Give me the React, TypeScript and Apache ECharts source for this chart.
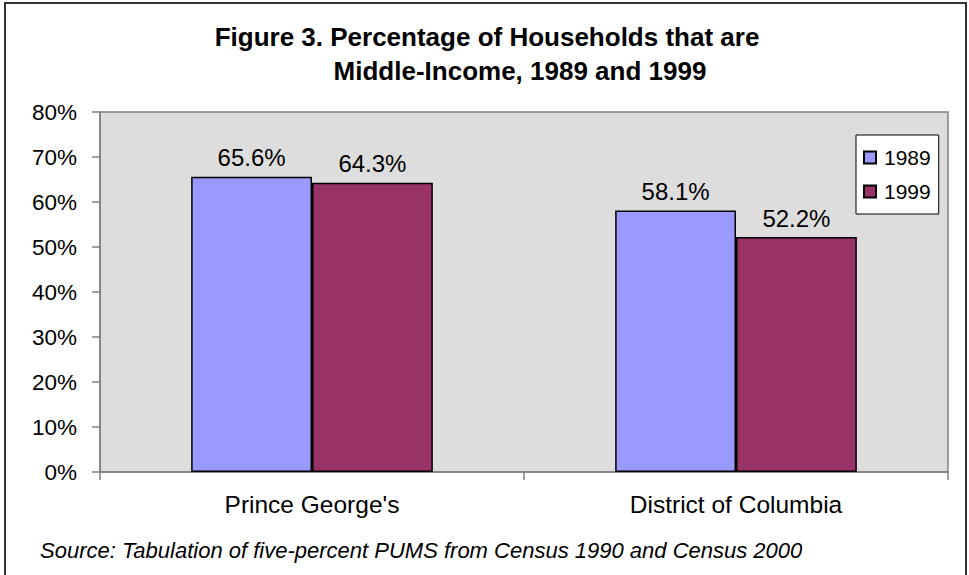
import React, { useEffect, useRef } from "react";
import * as echarts from "echarts";

const categories = ["Prince George's", "District of Columbia"];
const seriesNames = ["1989", "1999"];
const values1989 = [65.6, 58.1];
const values1999 = [64.3, 52.2];
const yTicks = [0, 10, 20, 30, 40, 50, 60, 70, 80];
const titleLine1 = "Figure 3. Percentage of Households that are";
const titleLine2 = "Middle-Income, 1989 and 1999";
const sourceText = "Source: Tabulation of five-percent PUMS from Census 1990 and Census 2000";

const FONT = "'Liberation Sans', Arial, Helvetica, sans-serif";

export default function App() {
  const ref = useRef<HTMLDivElement>(null);
  useEffect(() => {
    const chart = echarts.init(ref.current!, undefined, { renderer: "svg" });
    const barStyle = (color: string) => ({
      color,
      borderColor: "#000000",
      borderWidth: 1.5,
    });
    const label = {
      show: true,
      position: "top" as const,
      distance: 7,
      fontFamily: FONT,
      fontSize: 24,
      color: "#000",
      formatter: (p: any) => `${p.value.toFixed(1)}%`,
    };
    chart.setOption({
      animation: false,
      backgroundColor: "#ffffff",
      textStyle: { fontFamily: FONT },
      grid: {
        left: 100,
        top: 112,
        right: 21,
        bottom: 103,
        show: true,
        backgroundColor: "#DDDDDD",
        borderColor: "#808080",
        borderWidth: 1.5,
        containLabel: false,
      },
      legend: {
        orient: "vertical",
        left: 856,
        top: 135,
        width: 82,
        height: 77,
        backgroundColor: "#ffffff",
        borderColor: "#000000",
        borderWidth: 1,
        padding: [12, 8, 12, 7],
        itemWidth: 12,
        itemHeight: 12,
        itemGap: 13,
        icon: "rect",
        data: seriesNames,
        textStyle: { fontFamily: FONT, fontSize: 21, color: "#000", padding: [0, 0, 0, 3] },
      },
      xAxis: {
        type: "category",
        data: categories,
        axisLine: { show: true, lineStyle: { color: "#808080", width: 1.5 } },
        axisTick: { show: true, length: 8, lineStyle: { color: "#808080", width: 1.5 } },
        axisLabel: { fontFamily: FONT, fontSize: 24.5, color: "#000", margin: 20 },
      },
      yAxis: {
        type: "value",
        min: 0,
        max: 80,
        interval: 10,
        axisLine: { show: true, lineStyle: { color: "#808080", width: 1.5 } },
        axisTick: { show: true, length: 8, lineStyle: { color: "#808080", width: 1.5 } },
        splitLine: { show: false },
        axisLabel: {
          fontFamily: FONT,
          fontSize: 22.5,
          color: "#000",
          margin: 23,
          formatter: (v: number) => (yTicks.includes(v) ? `${v}%` : ""),
        },
      },
      series: [
        {
          name: seriesNames[0],
          type: "bar",
          data: values1989,
          barGap: "0%",
          barCategoryGap: "43%",
          itemStyle: barStyle("#9999FF"),
          label,
        },
        {
          name: seriesNames[1],
          type: "bar",
          data: values1999,
          barGap: "0%",
          barCategoryGap: "43%",
          itemStyle: barStyle("#993366"),
          label,
        },
      ],
      graphic: [
        {
          type: "rect",
          shape: { x: 5, y: 3, width: 961, height: 580 },
          style: { fill: "none", stroke: "#333333", lineWidth: 2 },
          silent: true,
        },
        {
          type: "text",
          x: 487,
          y: 37,
          style: {
            text: titleLine1,
            font: `bold 26px ${FONT}`,
            fill: "#000",
            align: "center",
            verticalAlign: "middle",
          },
        },
        {
          type: "text",
          x: 520,
          y: 71,
          style: {
            text: titleLine2,
            font: `bold 26px ${FONT}`,
            fill: "#000",
            align: "center",
            verticalAlign: "middle",
          },
        },
        {
          type: "text",
          x: 40,
          y: 550,
          style: {
            text: sourceText,
            font: `italic 22px ${FONT}`,
            fill: "#000",
            align: "left",
            verticalAlign: "middle",
          },
        },
      ],
    });
    return () => chart.dispose();
  }, []);
  return (
    <div
      ref={ref}
      style={{ position: "fixed", left: 0, top: 0, width: 969, height: 575 }}
    />
  );
}
